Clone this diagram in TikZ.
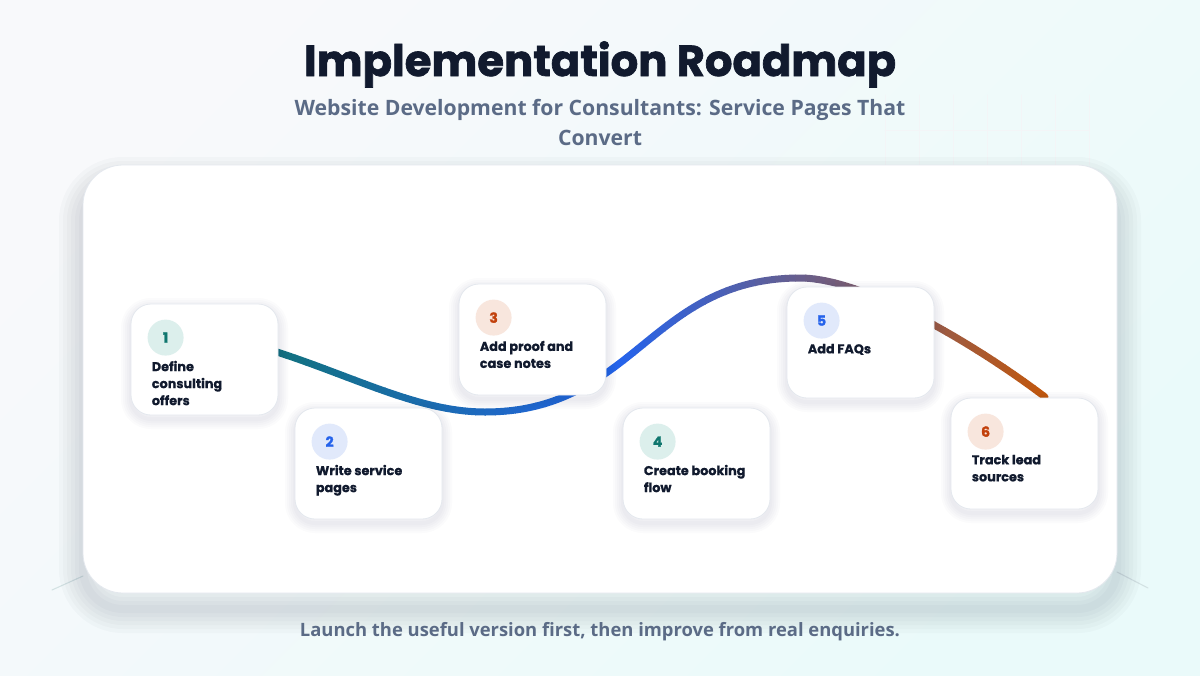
\documentclass[tikz,border=0pt]{standalone}
\usepackage{fontspec}
\setmainfont{Poppins}
\newfontfamily\heavyfont[BoldFeatures={FakeBold=1.6}]{Poppins}
\newfontfamily\cardfont[BoldFeatures={FakeBold=0.8}]{Poppins}
\newfontfamily\subfont{Open Sans}
\definecolor{ink}{HTML}{111A2E}
\definecolor{slate}{HTML}{5B6B86}
\definecolor{bgA}{HTML}{F8F9FB}
\definecolor{bgB}{HTML}{EAFAFA}
\definecolor{cardline}{HTML}{E4E8EE}
\definecolor{decoline}{HTML}{D3E2E3}
\definecolor{shade}{HTML}{1E2A44}
\definecolor{tealA}{HTML}{0F766E}
\definecolor{tealB}{HTML}{DCEFEC}
\definecolor{blueA}{HTML}{2563EB}
\definecolor{blueB}{HTML}{E1E9FB}
\definecolor{orngA}{HTML}{C2410C}
\definecolor{orngB}{HTML}{F8E6DD}
\definecolor{roadA}{HTML}{12727F}
\definecolor{roadB}{HTML}{2563EB}
\definecolor{roadC}{HTML}{C2570C}

\begin{document}
\begin{tikzpicture}[x=0.75pt,y=-0.75pt,line cap=round,
  cardshade/.style={
    preaction={draw=shade,draw opacity=0.014,line width=3pt,transform canvas={yshift=-3pt}},
    preaction={draw=shade,draw opacity=0.014,line width=6pt,transform canvas={yshift=-3pt}},
    preaction={draw=shade,draw opacity=0.014,line width=9pt,transform canvas={yshift=-3pt}},
    preaction={draw=shade,draw opacity=0.014,line width=12pt,transform canvas={yshift=-3pt}},
    preaction={draw=shade,draw opacity=0.014,line width=15pt,transform canvas={yshift=-3pt}}},
  boardshade/.style={
    preaction={draw=shade,draw opacity=0.022,line width=6pt,transform canvas={yshift=-12pt}},
    preaction={draw=shade,draw opacity=0.022,line width=12pt,transform canvas={yshift=-12pt}},
    preaction={draw=shade,draw opacity=0.022,line width=18pt,transform canvas={yshift=-12pt}},
    preaction={draw=shade,draw opacity=0.022,line width=24pt,transform canvas={yshift=-12pt}},
    preaction={draw=shade,draw opacity=0.022,line width=30pt,transform canvas={yshift=-12pt}},
    preaction={draw=shade,draw opacity=0.022,line width=36pt,transform canvas={yshift=-12pt}}},
  stepcard/.style={cardshade,draw=cardline,line width=0.6pt,fill=white,rounded corners=15pt,
    minimum width=110.25pt,minimum height=83.25pt,inner sep=0pt},
  numdot/.style={circle,inner sep=0pt,minimum size=27pt,font=\fontsize{10.5}{11}\selectfont\heavyfont\bfseries},
  steptext/.style={anchor=north west,inner sep=0pt,align=left,text=ink,
    font=\fontsize{9.6}{12.75}\selectfont\cardfont\bfseries},
  road/.style={line width=5.25pt,line cap=round}]
\useasboundingbox (0,0) rectangle (1200,675);

% background and board
\shade[top color=bgA,bottom color=bgB,shading angle=45] (0,0) rectangle (1200,675);
\foreach \gx in {885,919,953,987,1021,1055,1089}
  \draw[cardline!45,line width=0.4pt] (\gx,95) -- (\gx,165);
\draw[cardline!45,line width=0.4pt] (885,130) -- (1089,130);
\draw[decoline,line width=0.8pt] (52,590) -- (83,576);
\draw[decoline,line width=0.8pt] (1117,572) -- (1148,588);
\node[boardshade,draw=cardline,line width=0.6pt,fill=white,rounded corners=30pt,inner sep=0pt,
  minimum width=775.5pt,minimum height=321pt] (board) at (600,379) {};

% titles
\node[anchor=base,text=ink,font=\fontsize{32.5}{40}\selectfont\heavyfont\bfseries] (title) at (600,76) {Implementation Roadmap};
\node[anchor=north,text=slate,align=center,font=\fontsize{15.9}{22.5}\selectfont\subfont\bfseries] (subtitle) at (600,95)
  {Website Development for Consultants: Service Pages That\\Convert};
\node[anchor=base,text=slate,font=\fontsize{13.8}{15}\selectfont\subfont\bfseries] (footer) at (600,636)
  {Launch the useful version first, then improve from real enquiries.};

% road, drawn in colour strips before the cards
\coordinate (roadstart) at (277,352);
\coordinate (roadend) at (1045,397);
\def\roadline{(roadstart) .. controls (357,378) and (420,412) .. (485,412)
  .. controls (635,412) and (650,278) .. (800,278)
  .. controls (870,278) and (990,355) .. (roadend)}
\foreach \xa in {265,275,...,1055}{
  \pgfmathsetmacro{\xm}{\xa+5}
  \ifdim\xm pt<620pt
    \pgfmathsetmacro{\p}{max(0,min(100,(\xm-277)/3.43))}
    \colorlet{stripcol}{roadB!\p!roadA}
  \else
    \pgfmathsetmacro{\p}{min(100,(\xm-620)/4.25)}
    \colorlet{stripcol}{roadC!\p!roadB}
  \fi
  \begin{scope}
    \clip (\xa,200) rectangle (\xa+10.5,480);
    \draw[road,stripcol] \roadline;
  \end{scope}
}

% step cards
\node[stepcard] (s1) at (204.5,359.5) {};
\node[stepcard] (s2) at (368.5,463.5) {};
\node[stepcard] (s3) at (532.5,339.5) {};
\node[stepcard] (s4) at (696.5,463.5) {};
\node[stepcard] (s5) at (860.5,342.5) {};
\node[stepcard] (s6) at (1024.5,453.5) {};

\node[numdot,fill=tealB,text=tealA] (n1) at ([shift={(35,34)}]s1.north west) {1};
\node[numdot,fill=blueB,text=blueA] (n2) at ([shift={(35,34)}]s2.north west) {2};
\node[numdot,fill=orngB,text=orngA] (n3) at ([shift={(35,34)}]s3.north west) {3};
\node[numdot,fill=tealB,text=tealA] (n4) at ([shift={(35,34)}]s4.north west) {4};
\node[numdot,fill=blueB,text=blueA] (n5) at ([shift={(35,34)}]s5.north west) {5};
\node[numdot,fill=orngB,text=orngA] (n6) at ([shift={(35,34)}]s6.north west) {6};

\node[steptext] (t1) at ([shift={(21,57)}]s1.north west) {Define\\consulting\\offers};
\node[steptext] (t2) at ([shift={(21,57)}]s2.north west) {Write service\\pages};
\node[steptext] (t3) at ([shift={(21,57)}]s3.north west) {Add proof and\\case notes};
\node[steptext] (t4) at ([shift={(21,57)}]s4.north west) {Create booking\\flow};
\node[steptext] (t5) at ([shift={(21,57)}]s5.north west) {Add FAQs};
\node[steptext] (t6) at ([shift={(21,57)}]s6.north west) {Track lead\\sources};
\end{tikzpicture}
\end{document}
